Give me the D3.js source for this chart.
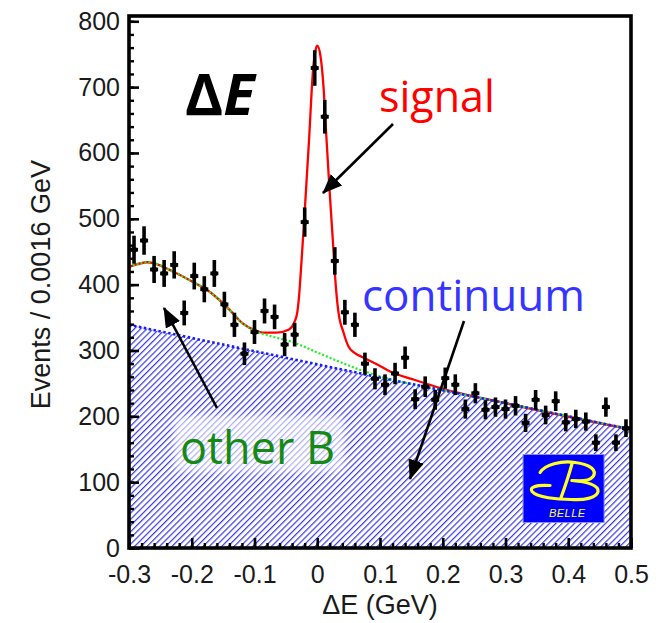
<!DOCTYPE html>
<html>
<head>
<meta charset="utf-8">
<script src="https://cdn.jsdelivr.net/npm/d3@7"></script>
<style>
  body { margin: 0; background: #fff; }
</style>
</head>
<body>
<div id="chart"></div>
<script>
// histogram of Delta E, 50 bins of 0.016 GeV from -0.3 to 0.5
const binStart = -0.3;
const binWidth = 0.016;
const events = [453, 467, 423, 417, 430, 357, 413, 393, 417, 370,
                339, 295, 328, 360, 351, 309, 324, 495, 729, 655,
                436, 358, 339, 280, 257, 248, 265, 289, 226, 245,
                225, 258, 248, 211, 235, 210, 214, 211, 216, 190,
                225, 202, 223, 191, 196, 192, 160, 214, 160, 182];

// fit components
const contX = [-0.3, -0.1, 0.1, 0.3, 0.5];
const contY = [339, 299, 259, 220, 180];

const otherX = [-0.3, -0.27, -0.23, -0.2, -0.17, -0.14, -0.12, -0.1, -0.075, -0.04, 0, 0.03, 0.07, 0.11, 0.2, 0.3, 0.5];
const otherY = [427, 434, 420, 405, 388, 362, 342, 330, 322, 313, 297, 285, 270, 258, 240, 220, 180];

const totalX = [-0.3, -0.27, -0.23, -0.2, -0.17, -0.14, -0.12, -0.1, -0.085, -0.065, -0.045, -0.037, -0.032, -0.029,
                -0.027, -0.021, -0.013, -0.007, -0.003, 0, 0.005, 0.01, 0.0142, 0.0195, 0.025, 0.029, 0.0335,
                0.042, 0.0498, 0.06, 0.074, 0.095, 0.116, 0.153, 0.196, 0.3, 0.5];
const totalY = [427, 434, 420, 405, 388, 362, 342, 331, 327, 327, 332, 342, 357, 382,
                408, 495, 621, 722, 755, 763, 748, 700, 630, 545, 465, 405, 360,
                327, 306, 296, 289, 279, 268, 256, 243, 220, 180];

const xTicks = [-0.3, -0.2, -0.1, 0, 0.1, 0.2, 0.3, 0.4, 0.5];
const yTicks = [0, 100, 200, 300, 400, 500, 600, 700, 800];

const width = 668, height = 623;
const margin = { top: 16, right: 37, bottom: 75, left: 129 };
const plotW = width - margin.left - margin.right;
const plotH = height - margin.top - margin.bottom;

const svg = d3.select('#chart').append('svg')
    .attr('width', width)
    .attr('height', height)
    .style('font-family', '"Liberation Sans", Arial, sans-serif');

const defs = svg.append('defs');

// diagonal hatching for the continuum
defs.append('pattern')
    .attr('id', 'hatch')
    .attr('patternUnits', 'userSpaceOnUse')
    .attr('width', 4.4)
    .attr('height', 4.4)
    .attr('patternTransform', 'rotate(45)')
    .append('rect')
    .attr('width', 1.2)
    .attr('height', 4.4)
    .attr('fill', '#3838e4');

defs.append('clipPath').attr('id', 'plot-clip')
    .append('rect').attr('width', plotW).attr('height', plotH);

defs.append('filter').attr('id', 'soft')
    .attr('x', '-20%').attr('y', '-40%').attr('width', '140%').attr('height', '180%')
    .append('feGaussianBlur').attr('stdDeviation', 3);

defs.append('marker')
    .attr('id', 'arrow')
    .attr('markerUnits', 'userSpaceOnUse')
    .attr('viewBox', '0 0 20 16')
    .attr('refX', 19).attr('refY', 8)
    .attr('markerWidth', 20).attr('markerHeight', 16)
    .attr('orient', 'auto')
    .append('path')
    .attr('d', 'M0,0 L20,8 L0,16 Z')
    .attr('fill', '#000');

const x = d3.scaleLinear().domain([-0.3, 0.5]).range([0, plotW]);
const y = d3.scaleLinear().domain([0, 808]).range([plotH, 0]);

const g = svg.append('g').attr('transform', `translate(${margin.left},${margin.top})`);
const plot = g.append('g').attr('clip-path', 'url(#plot-clip)');

const contData = contX.map((v, i) => [v, contY[i]]);
const otherData = otherX.map((v, i) => [v, otherY[i]]);
const totalData = totalX.map((v, i) => [v, totalY[i]]);

// continuum: hatched area with a dotted blue edge
plot.append('path')
    .datum(contData)
    .attr('fill', 'url(#hatch)')
    .attr('d', d3.area().x(d => x(d[0])).y0(y(0)).y1(d => y(d[1])));

const line = d3.line().x(d => x(d[0])).y(d => y(d[1])).curve(d3.curveMonotoneX);

plot.append('path')
    .datum(totalData)
    .attr('fill', 'none')
    .attr('stroke', '#ff0000')
    .attr('stroke-width', 2.3)
    .attr('d', line);

plot.append('path')
    .datum(otherData)
    .attr('fill', 'none')
    .attr('stroke', '#22ee22')
    .attr('stroke-width', 2.2)
    .attr('stroke-dasharray', '2,2')
    .attr('d', line);

plot.append('path')
    .datum(contData)
    .attr('fill', 'none')
    .attr('stroke', '#1a1aff')
    .attr('stroke-width', 2.6)
    .attr('stroke-dasharray', '2.5,2.5')
    .attr('d', line);

// data points with error bars
const bins = events.map((v, i) => ({ x: binStart + binWidth * (i + 0.5), v: v, e: Math.sqrt(v) }));
const pts = plot.append('g').selectAll('g').data(bins).enter().append('g');
pts.append('line')
    .attr('x1', d => x(d.x)).attr('x2', d => x(d.x))
    .attr('y1', d => y(d.v - d.e)).attr('y2', d => y(d.v + d.e))
    .attr('stroke', '#000').attr('stroke-width', 3.6);
pts.append('line')
    .attr('x1', d => x(d.x - binWidth * 0.4)).attr('x2', d => x(d.x + binWidth * 0.4))
    .attr('y1', d => y(d.v)).attr('y2', d => y(d.v))
    .attr('stroke', '#000').attr('stroke-width', 3.8);
pts.append('circle')
    .attr('cx', d => x(d.x)).attr('cy', d => y(d.v))
    .attr('r', 3).attr('fill', '#000');

// Belle logo
const logo = g.append('g').attr('transform', `translate(${x(0.328)},${y(142)})`);
logo.append('rect').attr('width', 81).attr('height', 68).attr('fill', '#0000ff')
    .attr('stroke', '#8a8af0').attr('stroke-width', 1);
const yellow = '#ffff20';
logo.append('path')
    .attr('d', 'M17,18 C22,10 38,6 52,8 C68,10 74,16 70,22 C66,27 58,27 49,26')
    .attr('fill', 'none').attr('stroke', yellow).attr('stroke-width', 3.2).attr('stroke-linecap', 'round');
logo.append('path')
    .attr('d', 'M49,26 C64,27 76,31 75,37 C74,43 62,46 48,45 C34,45 14,43 9,37 C6,33 12,30 27,31')
    .attr('fill', 'none').attr('stroke', yellow).attr('stroke-width', 3.2).attr('stroke-linecap', 'round');
logo.append('path')
    .attr('d', 'M49,9 C46,20 42,32 38,43')
    .attr('fill', 'none').attr('stroke', yellow).attr('stroke-width', 3.2).attr('stroke-linecap', 'round');
logo.append('text')
    .attr('x', 44).attr('y', 62)
    .attr('text-anchor', 'middle')
    .attr('font-size', 11)
    .attr('font-style', 'italic')
    .attr('fill', yellow)
    .attr('textLength', 36)
    .text('BELLE');

// minor ticks
g.append('g')
    .call(d3.axisLeft(y).tickValues(d3.range(0, 801, 20)).tickSize(-5).tickFormat(''))
    .call(a => a.select('.domain').remove())
    .selectAll('line').attr('stroke', '#000').attr('stroke-width', 2.4);
g.append('g')
    .attr('transform', `translate(0,${plotH})`)
    .call(d3.axisBottom(x).tickValues(d3.range(-15, 26).map(k => k * 0.02)).tickSize(-5).tickFormat(''))
    .call(a => a.select('.domain').remove())
    .selectAll('line').attr('stroke', '#000').attr('stroke-width', 2.4);

// major axes
const yAxis = g.append('g')
    .call(d3.axisLeft(y).tickValues(yTicks).tickSize(-10).tickPadding(9));
yAxis.select('.domain').remove();
yAxis.selectAll('line').attr('stroke', '#000').attr('stroke-width', 2.6);
yAxis.selectAll('text').attr('font-size', 25).attr('fill', '#1a1a1a')
    .attr('font-family', '"Liberation Sans", Arial, sans-serif');

const xAxis = g.append('g')
    .attr('transform', `translate(0,${plotH})`)
    .call(d3.axisBottom(x).tickValues(xTicks).tickSize(-10).tickPadding(17)
        .tickFormat(d => String(+d.toFixed(1))));
xAxis.select('.domain').remove();
xAxis.selectAll('line').attr('stroke', '#000').attr('stroke-width', 2.6);
xAxis.selectAll('text').attr('font-size', 25).attr('fill', '#1a1a1a')
    .attr('font-family', '"Liberation Sans", Arial, sans-serif');

// frame
g.append('rect')
    .attr('width', plotW).attr('height', plotH)
    .attr('fill', 'none').attr('stroke', '#000').attr('stroke-width', 3.6);

// axis titles
svg.append('text')
    .attr('x', margin.left + x(0.1))
    .attr('y', 614)
    .attr('text-anchor', 'middle')
    .attr('font-size', 27)
    .attr('fill', '#1a1a1a')
    .text('ΔE (GeV)');

svg.append('text')
    .attr('transform', `translate(50,${margin.top + y(400)}) rotate(-90)`)
    .attr('text-anchor', 'middle')
    .attr('font-size', 27)
    .attr('fill', '#1a1a1a')
    .text('Events / 0.0016 GeV');

// annotations
const note = svg.append('g').style('font-family', '"Open Sans", "Noto Sans", sans-serif');

note.append('text')
    .attr('x', 185).attr('y', 115)
    .attr('font-size', 58).attr('font-weight', 'bold')
    .attr('fill', '#000')
    .call(t => t.append('tspan').text('Δ'))
    .call(t => t.append('tspan').attr('font-style', 'italic').text('E'));

note.append('text')
    .attr('x', 379).attr('y', 112)
    .attr('font-size', 43)
    .attr('fill', '#ff0000')
    .text('signal');

note.append('text')
    .attr('x', 362).attr('y', 311)
    .attr('font-size', 44)
    .attr('fill', '#3535ff')
    .text('continuum');

note.append('rect')
    .attr('x', 174).attr('y', 416).attr('width', 170).attr('height', 56).attr('rx', 8)
    .attr('fill', '#fff').attr('opacity', 0.6)
    .attr('filter', 'url(#soft)');

note.append('text')
    .attr('x', 180).attr('y', 464)
    .attr('font-size', 45)
    .attr('fill', '#148a14')
    .text('other B');

const arrows = [
    [393, 124, 323, 193],
    [464, 321, 410, 479],
    [217, 408, 164, 308]
];
note.selectAll('line.arrow').data(arrows).enter().append('line')
    .attr('class', 'arrow')
    .attr('x1', d => d[0]).attr('y1', d => d[1])
    .attr('x2', d => d[2]).attr('y2', d => d[3])
    .attr('stroke', '#000').attr('stroke-width', 2.6)
    .attr('marker-end', 'url(#arrow)');
</script>
</body>
</html>
